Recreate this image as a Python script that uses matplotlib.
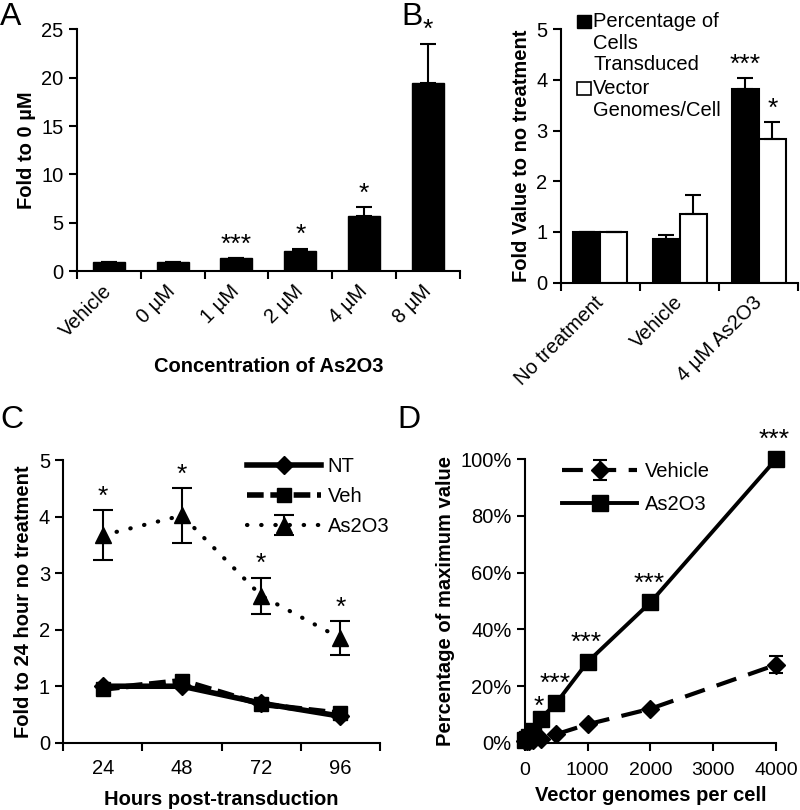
import numpy as np
import matplotlib
matplotlib.use("Agg")
import matplotlib.pyplot as plt
from matplotlib.patches import Rectangle
from matplotlib.ticker import PercentFormatter

plt.rcParams['font.family'] = ['Liberation Sans', 'DejaVu Sans']
plt.rcParams['axes.linewidth'] = 1.5

# Panel A
a_labels = ["Vehicle", "0 µM", "1 µM", "2 µM", "4 µM", "8 µM"]
a_vals = [1.0, 1.0, 1.4, 2.1, 5.7, 19.4]
a_err = [0, 0, 0, 0.25, 0.9, 4.1]
a_stars = ["", "", "***", "*", "*", "*"]

# Panel B
b_groups = ["No treatment", "Vehicle", "4 µM As2O3"]
b_pct = [1.0, 0.87, 3.82]
b_pct_err = [0, 0.08, 0.21]
b_vg = [1.0, 1.35, 2.84]
b_vg_err = [0, 0.38, 0.33]
b_pct_stars = ["", "", "***"]
b_vg_stars = ["", "", "*"]

# Panel C
c_hours = ["24", "48", "72", "96"]
c_nt = [1.0, 1.0, 0.7, 0.47]
c_veh = [0.95, 1.1, 0.68, 0.52]
c_as = [3.67, 4.02, 2.6, 1.85]
c_as_err = [0.44, 0.48, 0.32, 0.3]

# Panel D
d_x = [0, 31, 62, 125, 250, 500, 1000, 2000, 4000]
d_veh = [0.005, 0.006, 0.008, 0.01, 0.015, 0.03, 0.065, 0.12, 0.275]
d_veh_err = [0, 0, 0, 0, 0, 0, 0, 0, 0.03]
d_as = [0.01, 0.015, 0.02, 0.04, 0.085, 0.14, 0.285, 0.495, 1.0]
d_stars = ["", "", "", "", "*", "***", "***", "***", "***"]

TICK = 14.5
LAB = 14.5
STAR = 19

fig = plt.figure(figsize=(8, 8.1), dpi=100)


def style(ax):
    for s in ["top", "right"]:
        ax.spines[s].set_visible(False)
    ax.tick_params(direction='out', length=6, width=1.5, labelsize=TICK)


def cat_axis(ax, n, labels, rotation=0):
    ax.set_xlim(-0.5, n - 0.5)
    ax.set_xticks(np.arange(n + 1) - 0.5)
    ax.set_xticklabels([])
    ax.set_xticks(np.arange(n), minor=True)
    if rotation:
        ax.set_xticklabels(labels, minor=True, rotation=rotation, ha='right',
                           va='center', rotation_mode='anchor', fontsize=TICK)
    else:
        ax.set_xticklabels(labels, minor=True, fontsize=TICK)
    ax.tick_params(axis='x', which='minor', length=0, pad=12)


def stars(ax, xs, tops, marks, dx=0, dy=1):
    for x, t, s in zip(xs, tops, marks):
        if s:
            ax.annotate(s, (x, t), xytext=(dx, dy), textcoords='offset points',
                        ha='center', va='bottom', fontsize=STAR,
                        annotation_clip=False)


# ---- A ----
axA = fig.add_axes([0.096, 0.665, 0.479, 0.299])
style(axA)
xa = np.arange(len(a_vals))
axA.bar(xa, a_vals, 0.5, color='black', edgecolor='black')
axA.errorbar(xa, a_vals, yerr=[np.zeros(6), a_err], fmt='none', ecolor='black',
             elinewidth=1.5, capsize=6, capthick=1.5)
stars(axA, xa, np.add(a_vals, a_err), a_stars)
axA.set_ylim(0, 25)
axA.set_yticks(range(0, 26, 5))
cat_axis(axA, 6, a_labels, rotation=45)
axA.set_ylabel("Fold to 0 µM", fontsize=LAB, fontweight='bold')
axA.set_xlabel("Concentration of As2O3", fontsize=LAB, fontweight='bold', labelpad=12)
fig.text(0.0, 0.997, "A", fontsize=23, va='top')

# ---- B ----
axB = fig.add_axes([0.701, 0.651, 0.297, 0.313])
style(axB)
xb = np.arange(len(b_groups))
w = 0.34
axB.bar(xb - w / 2, b_pct, w, color='black', edgecolor='black', linewidth=1.5)
axB.bar(xb + w / 2, b_vg, w, color='white', edgecolor='black', linewidth=1.5)
axB.errorbar(xb - w / 2, b_pct, yerr=[np.zeros(3), b_pct_err], fmt='none',
             ecolor='black', elinewidth=1.5, capsize=6, capthick=1.5)
axB.errorbar(xb + w / 2, b_vg, yerr=[np.zeros(3), b_vg_err], fmt='none',
             ecolor='black', elinewidth=1.5, capsize=6, capthick=1.5)
stars(axB, xb - w / 2, np.add(b_pct, b_pct_err), b_pct_stars)
stars(axB, xb + w / 2, np.add(b_vg, b_vg_err), b_vg_stars)
axB.set_ylim(0, 5)
axB.set_yticks(range(0, 6))
cat_axis(axB, 3, b_groups, rotation=45)
axB.set_ylabel("Fold Value to no treatment", fontsize=LAB, fontweight='bold')
fig.text(0.502, 0.997, "B", fontsize=23, va='top')
# legend drawn by hand so the square sits on the first line
fig.patches.append(Rectangle((577 / 800, 1 - 28 / 810), 14 / 800, 13 / 810,
                             transform=fig.transFigure, facecolor='black',
                             edgecolor='black', linewidth=1))
fig.patches.append(Rectangle((577 / 800, 1 - 95 / 810), 14 / 800, 13 / 810,
                             transform=fig.transFigure, facecolor='white',
                             edgecolor='black', linewidth=1.2))
fig.text(593 / 800, 1 - 12 / 810, "Percentage of\nCells\nTransduced",
         fontsize=TICK, va='top', linespacing=1.18)
fig.text(593 / 800, 1 - 79 / 810, "Vector\nGenomes/Cell",
         fontsize=TICK, va='top', linespacing=1.18)

# ---- C ----
axC = fig.add_axes([0.079, 0.083, 0.396, 0.349])
style(axC)
xc = np.arange(len(c_hours))
axC.plot(xc, c_nt, '-', color='black', lw=4, marker='D', ms=9, label='NT')
axC.plot(xc, c_veh, color='black', lw=4, ls=(0, (3, 1.2)), marker='s', ms=10,
         label='Veh')
axC.errorbar(xc, c_as, yerr=c_as_err, color='black', lw=3, ls=(0, (0.1, 3.3)),
             dash_capstyle='round', marker='^', ms=12, ecolor='black',
             elinewidth=1.5, capsize=7, capthick=1.5, label='As2O3')
stars(axC, xc, np.add(c_as, c_as_err), ["*"] * 4)
axC.set_ylim(0, 5)
axC.set_yticks(range(0, 6))
cat_axis(axC, 4, c_hours)
axC.tick_params(axis='x', which='minor', pad=12)
axC.set_ylabel("Fold to 24 hour no treatment", fontsize=LAB, fontweight='bold')
axC.set_xlabel("Hours post-transduction", fontsize=LAB, fontweight='bold', labelpad=8)
axC.legend(loc='upper left', bbox_to_anchor=(0.58, 1.01), frameon=False,
           fontsize=TICK, handlelength=3.7, labelspacing=0.55, handletextpad=0.3,
           borderpad=0, borderaxespad=0)
fig.text(0.0, 0.5, "C", fontsize=23, va='top')

# ---- D ----
axD = fig.add_axes([0.656, 0.083, 0.314, 0.35])
style(axD)
veh = axD.errorbar(d_x, d_veh, yerr=d_veh_err, color='black', lw=3, ls=(0, (5, 3)),
                   marker='D', ms=9, ecolor='black', elinewidth=1.5, capsize=5,
                   capthick=1.5, label='Vehicle', clip_on=False)
asl, = axD.plot(d_x, d_as, '-', color='black', lw=2.8, marker='s', ms=12,
                label='As2O3', clip_on=False)
# the lone * at 250 sits a little lower so it clears the *** beside it
for x, v, s in zip(d_x, d_as, d_stars):
    if s:
        axD.annotate(s, (x, v), xytext=(-1, 0 if s == "*" else 5),
                     textcoords='offset points', ha='center', va='bottom',
                     fontsize=STAR, annotation_clip=False)
axD.set_xlim(0, 4000)
axD.set_xticks(range(0, 4001, 1000))
axD.set_ylim(0, 1.0)
axD.set_yticks(np.arange(0, 1.01, 0.2))
axD.yaxis.set_major_formatter(PercentFormatter(1.0, decimals=0))
axD.tick_params(axis='x', pad=8)
axD.tick_params(axis='x', labelsize=14)
axD.set_ylabel("Percentage of maximum value", fontsize=LAB, fontweight='bold')
axD.set_xlabel("Vector genomes per cell", fontsize=LAB, fontweight='bold', labelpad=5)
axD.legend([veh, asl], ['Vehicle', 'As2O3'], loc='upper left',
           bbox_to_anchor=(0.15, 0.99), frameon=False, fontsize=TICK,
           handlelength=3.7, labelspacing=0.7, handletextpad=0.4,
           borderpad=0, borderaxespad=0)
fig.text(0.497, 0.5, "D", fontsize=23, va='top')

fig.savefig("out.png", dpi=100)
